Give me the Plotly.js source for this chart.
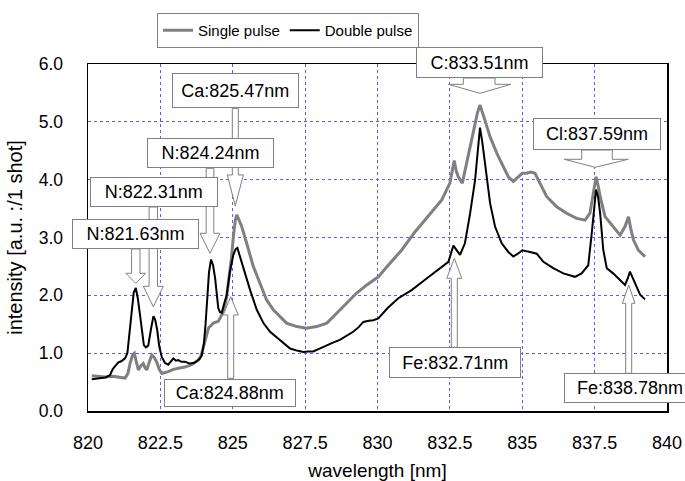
<!DOCTYPE html>
<html>
<head>
<meta charset="utf-8">
<script src="https://cdn.plot.ly/plotly-3.0.1.min.js"></script>
<style>html,body{margin:0;padding:0;background:#fff;}#chart{width:685px;height:481px;}</style>
</head>
<body>
<div id="chart"></div>
<script>
// ---- data ----
const singleWavelength = [820.13,820.40,820.60,820.85,821.05,821.28,821.38,821.45,821.55,821.60,821.67,821.74,821.82,821.91,821.97,822.03,822.12,822.20,822.28,822.37,822.46,822.55,822.77,822.95,823.12,823.35,823.58,823.81,823.90,823.98,824.08,824.16,824.33,824.50,824.62,824.72,824.79,824.88,824.96,825.02,825.09,825.14,825.22,825.31,825.48,825.71,825.94,826.17,826.40,826.63,826.86,827.21,827.55,827.90,828.25,828.59,828.94,829.28,829.63,829.91,830.03,830.37,830.83,831.30,831.75,832.22,832.50,832.58,832.65,832.72,832.79,832.93,833.08,833.31,833.45,833.54,833.62,833.71,833.89,834.12,834.35,834.52,834.69,834.85,835.00,835.15,835.30,835.44,835.61,835.84,836.19,836.53,836.88,837.17,837.34,837.45,837.55,837.62,837.69,837.86,838.09,838.38,838.55,838.67,838.75,838.84,839.01,839.24];
const singleIntensity = [0.61,0.60,0.59,0.60,0.59,0.57,0.65,0.82,0.98,1.00,0.85,0.71,0.78,0.82,0.75,0.71,0.85,0.97,0.93,0.85,0.72,0.65,0.68,0.72,0.74,0.76,0.80,0.88,0.95,1.11,1.30,1.43,1.52,1.55,1.66,1.80,1.98,2.30,2.67,3.01,3.30,3.39,3.30,3.19,2.90,2.50,2.21,1.92,1.75,1.63,1.52,1.46,1.43,1.46,1.52,1.69,1.86,2.04,2.18,2.27,2.32,2.52,2.78,3.10,3.36,3.65,3.94,4.15,4.33,4.15,4.05,3.94,4.28,4.86,5.15,5.29,5.15,5.03,4.74,4.46,4.22,4.05,3.97,4.05,4.11,4.11,4.13,4.11,3.94,3.71,3.53,3.42,3.33,3.30,3.42,3.75,4.05,3.90,3.71,3.36,3.22,3.04,3.19,3.36,3.15,2.96,2.78,2.67];

const doubleWavelength = [820.13,820.40,820.60,820.76,820.85,820.93,821.05,821.15,821.28,821.36,821.42,821.51,821.58,821.65,821.72,821.80,821.87,821.93,822.00,822.08,822.17,822.26,822.32,822.39,822.46,822.55,822.66,822.77,822.87,822.95,823.04,823.12,823.22,823.35,823.52,823.65,823.75,823.85,823.93,824.00,824.06,824.12,824.18,824.25,824.32,824.39,824.45,824.50,824.56,824.62,824.70,824.79,824.90,825.02,825.10,825.16,825.25,825.42,825.60,825.83,826.06,826.29,826.63,826.98,827.25,827.44,827.60,827.78,828.00,828.25,828.50,828.70,828.95,829.16,829.35,829.51,829.70,829.85,830.03,830.35,830.72,831.18,831.64,832.10,832.45,832.62,832.73,832.85,833.02,833.20,833.37,833.47,833.54,833.62,833.71,833.89,834.06,834.29,834.52,834.69,834.85,835.00,835.27,835.50,835.73,836.07,836.42,836.82,837.05,837.28,837.40,837.48,837.55,837.62,837.69,837.80,837.92,838.14,838.38,838.55,838.65,838.72,838.80,838.89,839.07,839.24];
const doubleIntensity = [0.55,0.57,0.58,0.62,0.72,0.77,0.84,0.86,0.91,1.00,1.30,1.75,2.05,2.13,1.95,1.65,1.35,1.14,1.10,1.13,1.40,1.64,1.58,1.40,1.12,0.93,0.83,0.80,0.86,0.91,0.87,0.88,0.85,0.85,0.82,0.83,0.86,0.90,0.96,1.15,1.50,2.00,2.40,2.62,2.52,2.30,2.00,1.78,1.71,1.70,1.85,2.00,2.40,2.70,2.80,2.82,2.67,2.38,2.09,1.75,1.52,1.37,1.22,1.08,1.04,1.02,1.03,1.03,1.08,1.14,1.19,1.23,1.30,1.37,1.45,1.54,1.56,1.57,1.60,1.78,1.95,2.09,2.27,2.44,2.58,2.86,2.78,2.70,2.90,3.42,3.99,4.60,4.90,4.65,4.28,3.59,3.19,2.90,2.75,2.67,2.72,2.78,2.75,2.72,2.58,2.47,2.38,2.32,2.38,2.52,3.07,3.55,3.83,3.70,3.42,2.78,2.47,2.38,2.27,2.18,2.30,2.41,2.32,2.21,2.01,1.93];

const seriesNames = ["Single pulse", "Double pulse"];
const xTickValues = [820, 822.5, 825, 827.5, 830, 832.5, 835, 837.5, 840];
const xTickLabels = ["820", "822.5", "825", "827.5", "830", "832.5", "835", "837.5", "840"];
const yTickValues = [0, 1, 2, 3, 4, 5, 6];
const yTickLabels = ["0.0", "1.0", "2.0", "3.0", "4.0", "5.0", "6.0"];
const lineLabels = ["N:821.63nm", "N:822.31nm", "N:824.24nm", "Ca:825.47nm", "Ca:824.88nm", "C:833.51nm", "Cl:837.59nm", "Fe:832.71nm", "Fe:838.78nm"];

// ---- layout geometry (pixels in the 685x481 page) ----
const PL = 88, PR = 667, PT = 64, PB = 411;
const fx = px => (px - PL) / (PR - PL);
const fy = py => (PB - py) / (PB - PT);

// label boxes: [x0, x1, y0, y1]
const boxes = [
  [72, 199, 219, 249],
  [90, 217.5, 177, 207],
  [146.7, 273.7, 138.3, 168.3],
  [171.7, 298.3, 73.3, 108.3],
  [164.3, 296, 378.3, 406.7],
  [416, 543, 47, 78],
  [532.7, 660.7, 118.3, 150],
  [388.3, 520.7, 347.3, 378.3],
  [564, 696, 373.3, 403.3]
];
// block arrows: [centerX, baseY (box edge), neckY, tipY, shaftHalf, headHalf]
const blockArrows = [
  [135.8, 249, 273.3, 283.3, 4.2, 10],
  [153.3, 207, 286.3, 306.7, 4.2, 10],
  [210, 168.3, 233.3, 253.3, 3.8, 10],
  [235.3, 108.3, 175, 206, 3, 8],
  [230.7, 378.3, 315, 296.7, 3, 7.5],
  [454.3, 347.3, 278.3, 258.3, 3, 7.5],
  [628.7, 373.3, 303.3, 285, 3, 6.3]
];
// wide callouts: [boxBottom, stubY, tipX, tipY, leftOuter, leftInner, rightInner, rightOuter]
const callouts = [
  [78, 84.3, 480, 93.3, 448.3, 463.3, 495, 511],
  [150, 159.3, 595, 167.3, 564.3, 581.7, 612.3, 628.3]
];

function pathOf(points) {
  return 'M ' + points.map(p => fx(p[0]).toFixed(5) + ',' + fy(p[1]).toFixed(5)).join(' L ') + ' Z';
}

const shapes = [];
blockArrows.forEach(a => {
  const [cx, base, neck, tip, s, h] = a;
  shapes.push({
    type: 'path', xref: 'paper', yref: 'paper', layer: 'above',
    path: pathOf([[cx - s, base], [cx - s, neck], [cx - h, neck], [cx, tip], [cx + h, neck], [cx + s, neck], [cx + s, base]]),
    fillcolor: '#ffffff', line: {color: '#808080', width: 1}
  });
});
callouts.forEach(c => {
  const [bb, sy, tx, ty, lo, li, ri, ro] = c;
  shapes.push({
    type: 'path', xref: 'paper', yref: 'paper', layer: 'above',
    path: pathOf([[li, bb], [li, sy], [lo, sy], [tx, ty], [ro, sy], [ri, sy], [ri, bb]]),
    fillcolor: '#ffffff', line: {color: '#808080', width: 1}
  });
});

const annotations = boxes.map((b, i) => ({
  xref: 'paper', yref: 'paper',
  x: fx((b[0] + b[1]) / 2), y: fy((b[2] + b[3]) / 2),
  xanchor: 'center', yanchor: 'middle',
  text: lineLabels[i], showarrow: false,
  width: b[1] - b[0] - 2, height: b[3] - b[2] - 2,
  bgcolor: '#ffffff', bordercolor: '#808080', borderwidth: 1, borderpad: 0,
  align: 'center', valign: 'middle',
  font: {family: 'Liberation Sans, Arial, sans-serif', size: 18, color: '#000'}
}));

const traces = [
  {x: singleWavelength, y: singleIntensity, name: seriesNames[0], type: 'scatter', mode: 'lines',
   line: {color: '#808080', width: 3}},
  {x: doubleWavelength, y: doubleIntensity, name: seriesNames[1], type: 'scatter', mode: 'lines',
   line: {color: '#000000', width: 2}}
];

const gridColor = '#5c5cff';
const layout = {
  width: 685, height: 481,
  margin: {l: PL, r: 685 - PR, t: PT, b: 481 - PB, pad: 0},
  paper_bgcolor: '#ffffff', plot_bgcolor: '#ffffff',
  font: {family: 'Liberation Sans, Arial, sans-serif', color: '#000'},
  showlegend: true,
  legend: {
    orientation: 'h', x: fx(157), xanchor: 'left', y: fy(13), yanchor: 'top',
    bordercolor: '#808080', borderwidth: 1, bgcolor: '#ffffff',
    font: {family: 'Liberation Sans, Arial, sans-serif', size: 15, color: '#000'},
    itemwidth: 30, tracegroupgap: 0
  },
  xaxis: {
    range: [820, 840], tickmode: 'array', tickvals: xTickValues, ticktext: xTickLabels,
    showgrid: true, gridcolor: gridColor, griddash: 'dot', gridwidth: 1,
    zeroline: false, showline: true, mirror: true, linecolor: '#000', linewidth: 1.5,
    ticks: '', ticklabelstandoff: 15,
    tickfont: {size: 18},
    title: {text: 'wavelength [nm]', font: {size: 19}, standoff: 12},
    automargin: false
  },
  yaxis: {
    range: [0, 6], tickmode: 'array', tickvals: yTickValues, ticktext: yTickLabels,
    showgrid: true, gridcolor: gridColor, griddash: 'dot', gridwidth: 1,
    zeroline: false, showline: true, mirror: true, linecolor: '#000', linewidth: 1.5,
    ticks: '', ticklabelstandoff: 20,
    tickfont: {size: 17.5},
    title: {text: 'intensity [a.u. :/1 shot]', font: {size: 20}, standoff: 10},
    automargin: false
  },
  shapes: shapes,
  annotations: annotations
};

Plotly.newPlot('chart', traces, layout, {displayModeBar: false, staticPlot: true});
</script>
</body>
</html>
